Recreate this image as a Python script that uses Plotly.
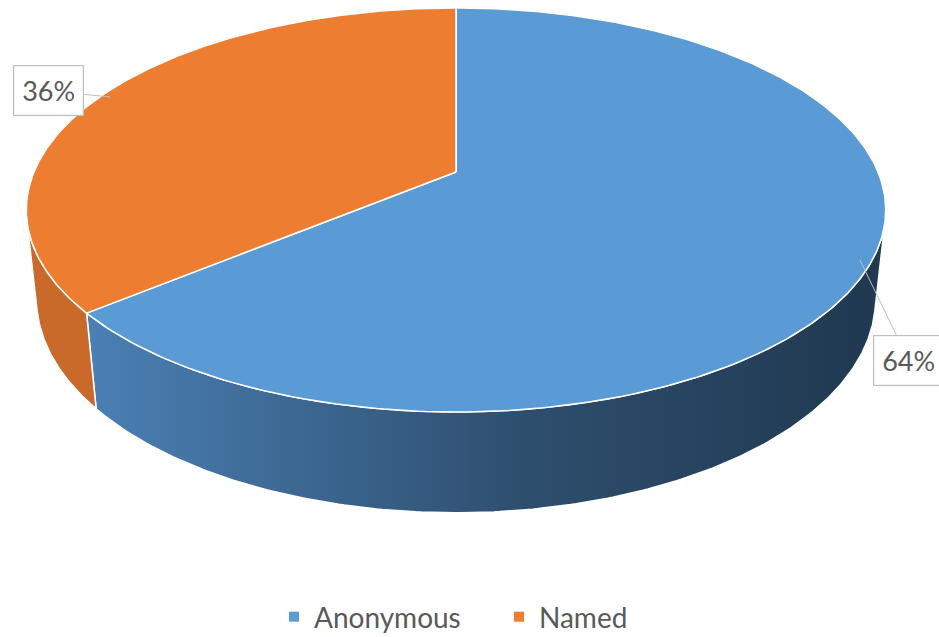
import numpy as np
import plotly.graph_objects as go

# ---------------- data ----------------
categories = ["Anonymous", "Named"]
values = [64, 36]
top_colors = ["#5B9BD5", "#ED7D31"]

# ---------------- 3D pie geometry (layout / style) ----------------
W, HGT = 939, 637
CX, CY = 456, 172          # projected pie centre (pixels)
F, D = 1992.0, 4.72        # focal length and camera distance (unit radius)
ALPHA = np.radians(27.5)   # elevation angle
DEPTH = 0.24               # pie thickness (unit radius)
FONT = "Lato, 'Open Sans', sans-serif"
TXT = "#595959"


def proj(theta, r=1.0, z=0.0):
    u = r * np.cos(theta)
    v = r * np.sin(theta)
    yc = v * np.sin(ALPHA) + z * np.cos(ALPHA)
    zc = D + v * np.cos(ALPHA) - z * np.sin(ALPHA)
    return CX + F * u / zc, CY - F * yc / zc


total = float(sum(values))
cum = np.concatenate([[0.0], np.cumsum(values)]) / total
# start at 12 o'clock, clockwise
a_start = 90.0 - 360.0 * cum[:-1]
a_end = 90.0 - 360.0 * cum[1:]

beta = np.degrees(np.arcsin(1.0 / (D * np.cos(ALPHA))))
vis_lo, vis_hi = 180.0 + beta, 360.0 - beta

side_styles = [
    dict(fillgradient=dict(type="horizontal",
                           colorscale=[[0, "#4a80b4"], [0.55, "#2e4e6e"], [1, "#203850"]])),
    dict(fillcolor="#C96A2B"),
]

fig = go.Figure()

# side walls
for i in range(len(values)):
    lo, hi = a_end[i], a_start[i]
    for k in (-720, -360, 0, 360):
        s, e = max(lo, vis_lo + k), min(hi, vis_hi + k)
        if e > s:
            th = np.radians(np.linspace(s, e, 200))
            xt, yt = proj(th)
            xb, yb = proj(th[::-1], z=-DEPTH)
            xs = np.concatenate([xt, xb, xt[:1]])
            ys = np.concatenate([yt, yb, yt[:1]])
            fig.add_trace(go.Scatter(
                x=xs, y=ys, mode="lines", fill="toself",
                line=dict(color="white", width=1.5),
                hoverinfo="skip", showlegend=False, **side_styles[i]))

# top faces
for i in range(len(values)):
    th = np.radians(np.linspace(a_start[i], a_end[i], 300))
    xa, ya = proj(th)
    xs = np.concatenate([[CX], xa, [CX]])
    ys = np.concatenate([[CY], ya, [CY]])
    fig.add_trace(go.Scatter(
        x=xs, y=ys, mode="lines", fill="toself", fillcolor=top_colors[i],
        line=dict(color="white", width=1.5),
        hoverinfo="skip", showlegend=False))

# legend entries
for i, c in enumerate(categories):
    fig.add_trace(go.Scatter(
        x=[None], y=[None], mode="markers", name=c,
        marker=dict(symbol="square", size=10, color=top_colors[i]),
        showlegend=True))

# data labels
label_offsets = [(49, 101), (-62, -6)]
for i in range(len(values)):
    mid = np.radians((a_start[i] + a_end[i]) / 2.0)
    tx, ty = proj(mid, r=0.975)
    pct = f"{round(100 * values[i] / total)}%"
    fig.add_annotation(
        x=tx, y=ty, xref="x", yref="y", text=pct,
        showarrow=True, arrowhead=0, arrowwidth=1, arrowcolor="#bfbfbf",
        ax=label_offsets[i][0], ay=label_offsets[i][1], standoff=0,
        font=dict(family=FONT, size=27, color=TXT),
        bgcolor="white", bordercolor="#bfbfbf", borderwidth=1.2, borderpad=8)

fig.update_layout(
    width=W, height=HGT,
    margin=dict(l=0, r=0, t=0, b=0, autoexpand=False),
    paper_bgcolor="white", plot_bgcolor="white",
    xaxis=dict(range=[0, W], visible=False, fixedrange=True),
    yaxis=dict(range=[HGT, 0], visible=False, fixedrange=True),
    showlegend=True,
    legend=dict(orientation="h", x=274 / W, xanchor="left", y=1 - 617 / HGT,
                yanchor="middle", font=dict(family=FONT, size=28, color=TXT),
                entrywidth=180, entrywidthmode="pixels", itemclick=False,
                itemdoubleclick=False),
    font=dict(family=FONT, color=TXT),
)

fig.write_html("out.html",
               config={"displayModeBar": False},
               post_script="document.body.style.margin='0';"
                           "document.body.style.overflow='hidden';")
